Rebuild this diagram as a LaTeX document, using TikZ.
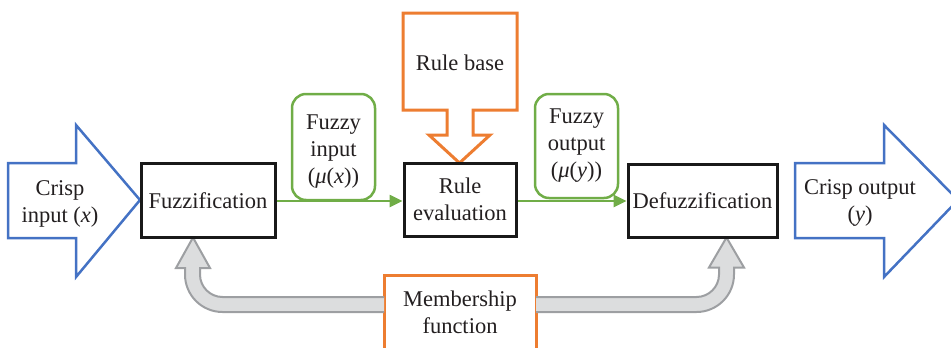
\documentclass[tikz,border=0pt]{standalone}
\usepackage{fontspec}
\setmainfont{Liberation Serif}
\usetikzlibrary{arrows.meta}
\definecolor{txt}{HTML}{231F20}
\definecolor{cblue}{HTML}{4472C4}
\definecolor{corange}{HTML}{ED7D31}
\definecolor{cgreen}{HTML}{70AD47}
\definecolor{gfill}{HTML}{DCDDDE}
\definecolor{gline}{HTML}{9D9FA2}
\tikzset{
  lbl/.style={text=txt, font=\fontsize{22.5}{27}\selectfont, align=center, inner sep=0pt},
  blk/.style={lbl, draw=black!90, line width=3pt, fill=white},
  gbox/.style={lbl, draw=cgreen, line width=2.5pt, rounded corners=14pt, fill=white},
  bluearrow/.style={draw=cblue, line width=2.5pt, line join=miter, fill=white},
  orangeshape/.style={draw=corange, line width=3pt, line join=miter, fill=white},
  greyarrow/.style={draw=gline, line width=2pt, fill=gfill, line join=miter},
  garrow/.style={draw=cgreen, line width=2.5pt, -{Triangle[length=13pt,width=12pt]}},
}
\begin{document}
\begin{tikzpicture}[x=1pt,y=-1pt]
\useasboundingbox (0,0) rectangle (951,348);
\clip (0,0) rectangle (951,348);
% crisp input arrow
\draw[bluearrow] (8,163)--(76,163)--(76,125)--(140,200)--(76,277)--(76,238)--(8,238)--cycle;
\node[lbl] (cin) at (60,204) {Crisp\\input (\textit{x})};
% crisp output arrow
\draw[bluearrow] (795,163)--(884,163)--(884,125)--(958,200)--(884,277)--(884,238)--(795,238)--cycle;
\node[lbl] (cout) at (860,203) {Crisp output\\(\textit{y})};
% rule base
\draw[orangeshape] (403,13)--(517,13)--(517,110)--(473,110)--(473,135)--(490,135)--(459.5,163)--(429,135)--(447,135)--(447,110)--(403,110)--cycle;
\node[lbl] (rb) at (460,63) {Rule base};
% membership function
\draw[orangeshape] (384,275) rectangle (536,360);
\node[lbl] (mf) at (460,312) {Membership\\function};
% grey arrows
\draw[greyarrow] (384,312)--(222.5,312) .. controls (201.8,312) and (185,295.2) .. (185,274.5)
  --(185,268)--(176,268)--(193,237.5)--(210,268)--(200,268)--(200,274.5)
  .. controls (200,286.9) and (210.1,297) .. (222.5,297)--(384,297);
\draw[greyarrow] (536,312)--(696.5,312) .. controls (717.2,312) and (734,295.2) .. (734,274.5)
  --(734,267.5)--(744,267.5)--(726.5,237.5)--(709,267.5)--(719,267.5)--(719,274.5)
  .. controls (719,286.9) and (708.9,297) .. (696.5,297)--(536,297);
% green boxes
\node[gbox, minimum width=83pt, minimum height=106pt] (fin) at (333.5,147) {};
\node[lbl] (fintxt) at (333.5,152) {Fuzzy\\input\\(\textit{μ}(\textit{x}))};
\node[gbox, minimum width=83pt, minimum height=104pt] (fout) at (576.5,146) {Fuzzy\\output\\(\textit{μ}(\textit{y}))};
% main blocks
\node[blk, minimum width=134pt, minimum height=74pt] (fuzz) at (208,200.5) {Fuzzification};
\node[blk, minimum width=112pt, minimum height=73pt] (reval) at (460,199.5) {Rule\\evaluation};
\node[blk, minimum width=149pt, minimum height=73pt] (defuzz) at (702.5,200.5) {Defuzzification};
% green connectors
\draw[garrow] (fuzz.east |- 0,201) -- (reval.west |- 0,201);
\draw[garrow] (reval.east |- 0,201) -- (defuzz.west |- 0,201);
\end{tikzpicture}
\end{document}
